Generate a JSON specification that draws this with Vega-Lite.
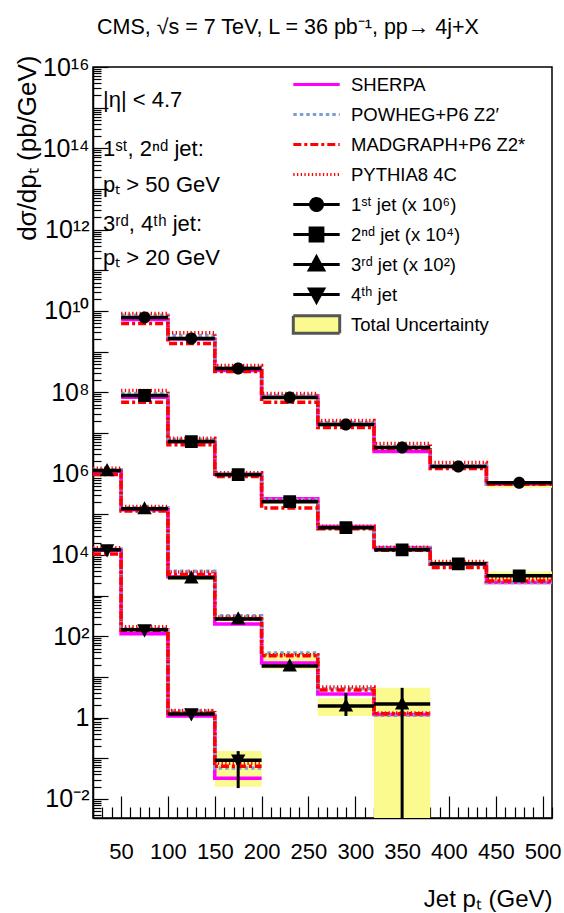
{
  "$schema": "https://vega.github.io/schema/vega-lite/v6.json",
  "width": 459,
  "height": 751,
  "autosize": {"type": "none"},
  "padding": {"left": 93, "top": 67, "right": 12, "bottom": 95},
  "background": "white",
  "title": {"text": "CMS, √s = 7 TeV, L = 36 pb⁻¹, pp→ 4j+X", "anchor": "start", "frame": "group", "dx": 4, "offset": 0, "fontSize": 21.5, "fontWeight": "normal", "font": "Liberation Sans", "color": "black", "baseline": "alphabetic"},
  "config": {"font": "Liberation Sans", "view": {"stroke": "black", "strokeWidth": 1.5}},
  "resolve": {"axis": {"x": "independent"}},
  "data": {"values": [
    {"series":"J1","lo":50,"hi":100,"pt":75,"v":6.95e9,"elo":6.6e9,"ehi":7.3e9,"blo":6.2e9,"bhi":7.8e9,"SHERPA":6.2e9,"POWHEG":7.8e9,"MADGRAPH":4.95e9,"PYTHIA8":8.7e9},
    {"series":"J1","lo":100,"hi":150,"pt":125,"v":2.11e9,"elo":2.0e9,"ehi":2.22e9,"blo":1.88e9,"bhi":2.37e9,"SHERPA":2.05e9,"POWHEG":2.5e9,"MADGRAPH":1.59e9,"PYTHIA8":2.9e9},
    {"series":"J1","lo":150,"hi":200,"pt":175,"v":3.86e8,"elo":3.67e8,"ehi":4.05e8,"blo":3.45e8,"bhi":4.3e8,"SHERPA":3.44e8,"POWHEG":4.08e8,"MADGRAPH":3.25e8,"PYTHIA8":4.57e8},
    {"series":"J1","lo":200,"hi":260,"pt":230,"v":7.45e7,"elo":7.1e7,"ehi":7.8e7,"blo":6.7e7,"bhi":8.3e7,"SHERPA":7.6e7,"POWHEG":8.3e7,"MADGRAPH":5.7e7,"PYTHIA8":9.3e7},
    {"series":"J1","lo":260,"hi":320,"pt":290,"v":1.61e7,"elo":1.53e7,"ehi":1.69e7,"blo":1.44e7,"bhi":1.8e7,"SHERPA":1.61e7,"POWHEG":1.8e7,"MADGRAPH":1.36e7,"PYTHIA8":2.02e7},
    {"series":"J1","lo":320,"hi":380,"pt":350,"v":4.37e6,"elo":4.15e6,"ehi":4.6e6,"blo":3.9e6,"bhi":4.9e6,"SHERPA":3.48e6,"POWHEG":4.63e6,"MADGRAPH":4.13e6,"PYTHIA8":5.5e6},
    {"series":"J1","lo":380,"hi":440,"pt":410,"v":1.49e6,"elo":1.41e6,"ehi":1.57e6,"blo":1.33e6,"bhi":1.68e6,"SHERPA":1.49e6,"POWHEG":1.57e6,"MADGRAPH":1.33e6,"PYTHIA8":1.87e6},
    {"series":"J1","lo":440,"hi":510,"pt":475,"v":6.0e5,"elo":5.6e5,"ehi":6.4e5,"blo":4.5e5,"bhi":6.6e5,"SHERPA":5.6e5,"POWHEG":5.6e5,"MADGRAPH":5.5e5,"PYTHIA8":5.9e5},
    {"series":"J2","lo":50,"hi":100,"pt":75,"v":8.34e7,"elo":7.9e7,"ehi":8.8e7,"blo":7.4e7,"bhi":9.4e7,"SHERPA":7.57e7,"POWHEG":9.3e7,"MADGRAPH":5.7e7,"PYTHIA8":1.11e8},
    {"series":"J2","lo":100,"hi":150,"pt":125,"v":6.14e6,"elo":5.8e6,"ehi":6.5e6,"blo":5.5e6,"bhi":6.9e6,"SHERPA":6.1e6,"POWHEG":6.87e6,"MADGRAPH":5.1e6,"PYTHIA8":7.4e6},
    {"series":"J2","lo":150,"hi":200,"pt":175,"v":9.44e5,"elo":8.95e5,"ehi":9.95e5,"blo":8.5e5,"bhi":1.05e6,"SHERPA":9.6e5,"POWHEG":1.0e6,"MADGRAPH":8.5e5,"PYTHIA8":1.05e6},
    {"series":"J2","lo":200,"hi":260,"pt":230,"v":2.04e5,"elo":1.94e5,"ehi":2.14e5,"blo":1.83e5,"bhi":2.28e5,"SHERPA":2.42e5,"POWHEG":2.3e5,"MADGRAPH":1.43e5,"PYTHIA8":2.16e5},
    {"series":"J2","lo":260,"hi":320,"pt":290,"v":4.68e4,"elo":4.45e4,"ehi":4.9e4,"blo":4.2e4,"bhi":5.2e4,"SHERPA":5.0e4,"POWHEG":4.8e4,"MADGRAPH":4.4e4,"PYTHIA8":5.1e4},
    {"series":"J2","lo":320,"hi":380,"pt":350,"v":1.34e4,"elo":1.27e4,"ehi":1.41e4,"blo":1.2e4,"bhi":1.5e4,"SHERPA":1.5e4,"POWHEG":1.53e4,"MADGRAPH":1.3e4,"PYTHIA8":1.55e4},
    {"series":"J2","lo":380,"hi":440,"pt":410,"v":6.07e3,"elo":5.75e3,"ehi":6.4e3,"blo":5.4e3,"bhi":6.9e3,"SHERPA":6.0e3,"POWHEG":6.2e3,"MADGRAPH":4.9e3,"PYTHIA8":6.9e3},
    {"series":"J2","lo":440,"hi":510,"pt":475,"v":3.07e3,"elo":2.85e3,"ehi":3.3e3,"blo":2.2e3,"bhi":3.9e3,"SHERPA":2.1e3,"POWHEG":2.1e3,"MADGRAPH":2.3e3,"PYTHIA8":2.6e3},
    {"series":"J3","lo":20,"hi":50,"pt":35,"v":1.19e6,"elo":1.13e6,"ehi":1.25e6,"blo":1.05e6,"bhi":1.35e6,"SHERPA":1.15e6,"POWHEG":1.25e6,"MADGRAPH":9.5e5,"PYTHIA8":1.35e6},
    {"series":"J3","lo":50,"hi":100,"pt":75,"v":1.37e5,"elo":1.3e5,"ehi":1.44e5,"blo":1.2e5,"bhi":1.55e5,"SHERPA":1.3e5,"POWHEG":1.45e5,"MADGRAPH":1.2e5,"PYTHIA8":1.55e5},
    {"series":"J3","lo":100,"hi":150,"pt":125,"v":2.74e3,"elo":2.6e3,"ehi":2.9e3,"blo":2.4e3,"bhi":3.1e3,"SHERPA":2.9e3,"POWHEG":4.0e3,"MADGRAPH":3.3e3,"PYTHIA8":3.8e3},
    {"series":"J3","lo":150,"hi":200,"pt":175,"v":268,"elo":250,"ehi":287,"blo":235,"bhi":305,"SHERPA":202,"POWHEG":318,"MADGRAPH":270,"PYTHIA8":300},
    {"series":"J3","lo":200,"hi":260,"pt":230,"v":18.7,"elo":17,"ehi":20.5,"blo":15.7,"bhi":40,"SHERPA":22,"POWHEG":39,"MADGRAPH":33,"PYTHIA8":35},
    {"series":"J3","lo":260,"hi":320,"pt":290,"v":1.93,"elo":1.1,"ehi":4.0,"blo":1.1,"bhi":3.0,"SHERPA":3.8,"POWHEG":5.1,"MADGRAPH":4.8,"PYTHIA8":5.7},
    {"series":"J3","lo":320,"hi":380,"pt":350,"v":2.16,"elo":0.001,"ehi":5.4,"blo":0.001,"bhi":5.4,"SHERPA":1.2,"POWHEG":1.15,"MADGRAPH":1.25,"PYTHIA8":1.3},
    {"series":"J4","lo":20,"hi":50,"pt":35,"v":1.34e4,"elo":1.27e4,"ehi":1.41e4,"blo":1.2e4,"bhi":1.5e4,"SHERPA":1.3e4,"POWHEG":1.4e4,"MADGRAPH":1.05e4,"PYTHIA8":1.5e4},
    {"series":"J4","lo":50,"hi":100,"pt":75,"v":144,"elo":137,"ehi":151,"blo":128,"bhi":162,"SHERPA":115,"POWHEG":155,"MADGRAPH":140,"PYTHIA8":171},
    {"series":"J4","lo":100,"hi":150,"pt":125,"v":1.23,"elo":1.15,"ehi":1.31,"blo":1.08,"bhi":1.4,"SHERPA":1.1,"POWHEG":1.45,"MADGRAPH":1.3,"PYTHIA8":1.5},
    {"series":"J4","lo":150,"hi":200,"pt":175,"v":0.09,"elo":0.0185,"ehi":0.15,"blo":0.02,"bhi":0.15,"SHERPA":0.0325,"POWHEG":0.058,"MADGRAPH":0.064,"PYTHIA8":0.075}
  ]},
  "layer": [
    {
      "mark": {"type": "rect", "fill": "#fafa8e", "clip": true},
      "encoding": {
        "x": {"field": "lo", "type": "quantitative", "scale": {"domain": [20, 510], "nice": false, "zero": false},
          "axis": {"orient": "bottom", "values": [50,100,150,200,250,300,350,400,450,500],
            "tickSize": -22, "labelPadding": 45,
            "tickColor": "black", "tickWidth": 1.2, "domainColor": "black", "domainWidth": 1.5, "grid": false,
            "labelFontSize": 22, "labelFont": "Liberation Sans", "labelColor": "black", "labelFlush": false, "labelOverlap": false, "labelBound": false,
            "title": "Jet pₜ (GeV)", "titleFont": "Liberation Sans", "titleFontSize": 24, "titleFontWeight": "normal", "titleColor": "black",
            "titleAnchor": "end", "titleAlign": "right", "titleX": 459, "titleY": 88, "titleBaseline": "alphabetic"}},
        "x2": {"field": "hi"},
        "y": {"field": "blo", "type": "quantitative", "scale": {"type": "log", "domain": [0.0034, 1e16], "nice": false, "zero": false},
          "axis": {"values": [4e-3,5e-3,6e-3,7e-3,8e-3,9e-3,1e-2,2e-2,3e-2,4e-2,5e-2,6e-2,7e-2,8e-2,9e-2,1e-1,2e-1,3e-1,4e-1,5e-1,6e-1,7e-1,8e-1,9e-1,1,2,3,4,5,6,7,8,9,1e1,2e1,3e1,4e1,5e1,6e1,7e1,8e1,9e1,1e2,2e2,3e2,4e2,5e2,6e2,7e2,8e2,9e2,1e3,2e3,3e3,4e3,5e3,6e3,7e3,8e3,9e3,1e4,2e4,3e4,4e4,5e4,6e4,7e4,8e4,9e4,1e5,2e5,3e5,4e5,5e5,6e5,7e5,8e5,9e5,1e6,2e6,3e6,4e6,5e6,6e6,7e6,8e6,9e6,1e7,2e7,3e7,4e7,5e7,6e7,7e7,8e7,9e7,1e8,2e8,3e8,4e8,5e8,6e8,7e8,8e8,9e8,1e9,2e9,3e9,4e9,5e9,6e9,7e9,8e9,9e9,1e10,2e10,3e10,4e10,5e10,6e10,7e10,8e10,9e10,1e11,2e11,3e11,4e11,5e11,6e11,7e11,8e11,9e11,1e12,2e12,3e12,4e12,5e12,6e12,7e12,8e12,9e12,1e13,2e13,3e13,4e13,5e13,6e13,7e13,8e13,9e13,1e14,2e14,3e14,4e14,5e14,6e14,7e14,8e14,9e14,1e15,2e15,3e15,4e15,5e15,6e15,7e15,8e15,9e15,1e16],
            "labelExpr": "abs(log(datum.value)/LN10 - round(log(datum.value)/LN10)) > 0.001 || round(log(datum.value)/LN10) % 2 !== 0 ? '' : round(log(datum.value)/LN10) === 0 ? '1' : '10' + (round(log(datum.value)/LN10) < 0 ? '⁻' : '') + (abs(round(log(datum.value)/LN10)) >= 10 ? '¹' : '') + substring('⁰¹²³⁴⁵⁶⁷⁸⁹', abs(round(log(datum.value)/LN10)) % 10, abs(round(log(datum.value)/LN10)) % 10 + 1)",
            "tickSize": {"condition": {"test": "abs(log(datum.value)/LN10 - round(log(datum.value)/LN10)) < 0.001", "value": -15}, "value": -8},
            "labelPadding": {"condition": {"test": "abs(log(datum.value)/LN10 - round(log(datum.value)/LN10)) < 0.001", "value": 19}, "value": 300},
            "tickColor": "black", "tickWidth": 1.2, "domainColor": "black", "domainWidth": 1.5, "grid": false,
            "labelFontSize": 25, "labelFont": "Liberation Sans", "labelColor": "black", "labelFlush": false, "labelOverlap": false, "labelBound": false,
            "title": "dσ/dpₜ (pb/GeV)", "titleFont": "Liberation Sans", "titleFontSize": 26, "titleFontWeight": "normal", "titleColor": "black",
            "titleAngle": 270, "titleAlign": "right", "titleX": -58, "titleY": -12, "titleBaseline": "alphabetic"}},
        "y2": {"field": "bhi"}
      }
    },
    {
      "transform": [{"fold": ["lo", "hi"], "as": ["edge", "x"]}],
      "mark": {"type": "line", "color": "#ff00ff", "strokeWidth": 3.5, "clip": true},
      "encoding": {
        "x": {"field": "x", "type": "quantitative", "scale": {"domain": [20, 510], "nice": false, "zero": false}, "axis": null},
        "y": {"field": "SHERPA", "type": "quantitative", "scale": {"type": "log", "domain": [0.0034, 1e16], "nice": false, "zero": false}},
        "detail": {"field": "series"},
        "order": [{"field": "x", "type": "quantitative"}, {"field": "edge", "type": "nominal"}]
      }
    },
    {
      "transform": [{"fold": ["lo", "hi"], "as": ["edge", "x"]}],
      "mark": {"type": "line", "color": "#7f9fd3", "strokeWidth": 3.5, "strokeDash": [3.5, 3], "clip": true},
      "encoding": {
        "x": {"field": "x", "type": "quantitative", "scale": {"domain": [20, 510], "nice": false, "zero": false}, "axis": null},
        "y": {"field": "POWHEG", "type": "quantitative", "scale": {"type": "log", "domain": [0.0034, 1e16], "nice": false, "zero": false}},
        "detail": {"field": "series"},
        "order": [{"field": "x", "type": "quantitative"}, {"field": "edge", "type": "nominal"}]
      }
    },
    {
      "transform": [{"fold": ["lo", "hi"], "as": ["edge", "x"]}],
      "mark": {"type": "line", "color": "#ff0000", "strokeWidth": 3.5, "strokeDash": [8, 3, 3, 3], "clip": true},
      "encoding": {
        "x": {"field": "x", "type": "quantitative", "scale": {"domain": [20, 510], "nice": false, "zero": false}, "axis": null},
        "y": {"field": "MADGRAPH", "type": "quantitative", "scale": {"type": "log", "domain": [0.0034, 1e16], "nice": false, "zero": false}},
        "detail": {"field": "series"},
        "order": [{"field": "x", "type": "quantitative"}, {"field": "edge", "type": "nominal"}]
      }
    },
    {
      "transform": [{"fold": ["lo", "hi"], "as": ["edge", "x"]}],
      "mark": {"type": "line", "color": "#ff0000", "strokeWidth": 3.5, "strokeDash": [1.3, 2.4], "clip": true},
      "encoding": {
        "x": {"field": "x", "type": "quantitative", "scale": {"domain": [20, 510], "nice": false, "zero": false}, "axis": null},
        "y": {"field": "PYTHIA8", "type": "quantitative", "scale": {"type": "log", "domain": [0.0034, 1e16], "nice": false, "zero": false}},
        "detail": {"field": "series"},
        "order": [{"field": "x", "type": "quantitative"}, {"field": "edge", "type": "nominal"}]
      }
    },
    {
      "mark": {"type": "rule", "color": "black", "strokeWidth": 3.5, "clip": true},
      "encoding": {
        "x": {"field": "lo", "type": "quantitative", "scale": {"domain": [20, 510], "nice": false, "zero": false},
          "axis": {"orient": "bottom", "values": [20,30,40,60,70,80,90,110,120,130,140,160,170,180,190,210,220,230,240,260,270,280,290,310,320,330,340,360,370,380,390,410,420,430,440,460,470,480,490,510],
            "labels": false, "domain": false, "grid": false, "title": null, "tickSize": -11, "tickColor": "black", "tickWidth": 1.2}},
        "x2": {"field": "hi"},
        "y": {"field": "v", "type": "quantitative", "scale": {"type": "log", "domain": [0.0034, 1e16], "nice": false, "zero": false}}
      }
    },
    {
      "mark": {"type": "rule", "color": "black", "strokeWidth": 3, "clip": true},
      "encoding": {
        "x": {"field": "pt", "type": "quantitative", "scale": {"domain": [20, 510], "nice": false, "zero": false}, "axis": null},
        "y": {"field": "elo", "type": "quantitative", "scale": {"type": "log", "domain": [0.0034, 1e16], "nice": false, "zero": false}},
        "y2": {"field": "ehi"}
      }
    },
    {
      "mark": {"type": "point", "filled": true, "size": 256, "opacity": 1, "strokeWidth": 0},
      "encoding": {
        "x": {"field": "pt", "type": "quantitative", "scale": {"domain": [20, 510], "nice": false, "zero": false}, "axis": null},
        "y": {"field": "v", "type": "quantitative", "scale": {"type": "log", "domain": [0.0034, 1e16], "nice": false, "zero": false}},
        "shape": {"field": "series", "type": "nominal", "scale": {"domain": ["SHERPA","POWHEG","MADGRAPH","PYTHIA8","J1","J2","J3","J4","UNC"],
          "range": ["M-2.9,0H2.9M0,-1.1M0,1.1","M-2.9,0H2.9M0,-1.1M0,1.1","M-2.9,0H2.9M0,-1.1M0,1.1","M-2.9,0H2.9M0,-1.1M0,1.1",
                    "M-2.9,0H2.9M0,-1.1M0,1.1M-0.75,0A0.75,0.75,0,1,0,0.75,0A0.75,0.75,0,1,0,-0.75,0Z",
                    "M-2.9,0H2.9M0,-1.1M0,1.1M-0.8,-0.8H0.8V0.8H-0.8Z",
                    "M-2.9,0H2.9M0,-1.1M0,1.1M0,-0.95L0.9,0.7H-0.9Z",
                    "M-2.9,0H2.9M0,-1.1M0,1.1M0,0.95L0.9,-0.7H-0.9Z",
                    "M-2.9,-1.1H2.9V1.1H-2.9Z"]}},
        "stroke": {"field": "series", "type": "nominal", "scale": {"domain": ["SHERPA","POWHEG","MADGRAPH","PYTHIA8","J1","J2","J3","J4","UNC"], "range": ["#ff00ff","#7f9fd3","#ff0000","#ff0000","#000000","#000000","#000000","#000000","#555555"]}},
        "strokeDash": {"field": "series", "type": "nominal", "scale": {"domain": ["SHERPA","POWHEG","MADGRAPH","PYTHIA8","J1","J2","J3","J4","UNC"], "range": [[1,0],[3.5,3],[8,3,3,3],[1.3,2.4],[1,0],[1,0],[1,0],[1,0],[1,0]]}},
        "color": {"field": "series", "type": "nominal", "scale": {"domain": ["SHERPA","POWHEG","MADGRAPH","PYTHIA8","J1","J2","J3","J4","UNC"], "range": ["#ff00ff","#7f9fd3","#ff0000","#ff0000","#000000","#000000","#000000","#000000","#fafa8e"]},
          "legend": {"orient": "none", "legendX": 214, "legendY": 8, "padding": 0, "title": null,
            "symbolSize": 256, "symbolStrokeWidth": 3, "symbolOpacity": 1, "labelOffset": 25, "rowPadding": -1, "labelFont": "Liberation Sans", "labelFontSize": 18.5, "labelColor": "black", "labelLimit": 0,
            "labelExpr": "datum.value === 'SHERPA' ? 'SHERPA' : datum.value === 'POWHEG' ? 'POWHEG+P6 Z2′' : datum.value === 'MADGRAPH' ? 'MADGRAPH+P6 Z2*' : datum.value === 'PYTHIA8' ? 'PYTHIA8 4C' : datum.value === 'J1' ? '1ˢᵗ jet (x 10⁶)' : datum.value === 'J2' ? '2ⁿᵈ jet (x 10⁴)' : datum.value === 'J3' ? '3ʳᵈ jet (x 10²)' : datum.value === 'J4' ? '4ᵗʰ jet' : 'Total Uncertainty'"}}
      }
    },
    {
      "data": {"values": [{"t": "|η| < 4.7"}]},
      "mark": {"type": "text", "align": "left", "baseline": "alphabetic", "fontSize": 22, "font": "Liberation Sans", "color": "black"},
      "encoding": {"x": {"datum": 30.7, "type": "quantitative", "axis": null}, "y": {"datum": 1.04e15, "type": "quantitative"}, "text": {"field": "t"}}
    },
    {
      "data": {"values": [{"t": "1ˢᵗ, 2ⁿᵈ jet:"}]},
      "mark": {"type": "text", "align": "left", "baseline": "alphabetic", "fontSize": 22, "font": "Liberation Sans", "color": "black"},
      "encoding": {"x": {"datum": 30.7, "type": "quantitative", "axis": null}, "y": {"datum": 6.43e13, "type": "quantitative"}, "text": {"field": "t"}}
    },
    {
      "data": {"values": [{"t": "pₜ > 50 GeV"}]},
      "mark": {"type": "text", "align": "left", "baseline": "alphabetic", "fontSize": 22, "font": "Liberation Sans", "color": "black"},
      "encoding": {"x": {"datum": 30.7, "type": "quantitative", "axis": null}, "y": {"datum": 8.34e12, "type": "quantitative"}, "text": {"field": "t"}}
    },
    {
      "data": {"values": [{"t": "3ʳᵈ, 4ᵗʰ jet:"}]},
      "mark": {"type": "text", "align": "left", "baseline": "alphabetic", "fontSize": 22, "font": "Liberation Sans", "color": "black"},
      "encoding": {"x": {"datum": 30.7, "type": "quantitative", "axis": null}, "y": {"datum": 9.14e11, "type": "quantitative"}, "text": {"field": "t"}}
    },
    {
      "data": {"values": [{"t": "pₜ > 20 GeV"}]},
      "mark": {"type": "text", "align": "left", "baseline": "alphabetic", "fontSize": 22, "font": "Liberation Sans", "color": "black"},
      "encoding": {"x": {"datum": 30.7, "type": "quantitative", "axis": null}, "y": {"datum": 1.33e11, "type": "quantitative"}, "text": {"field": "t"}}
    }
  ]
}
